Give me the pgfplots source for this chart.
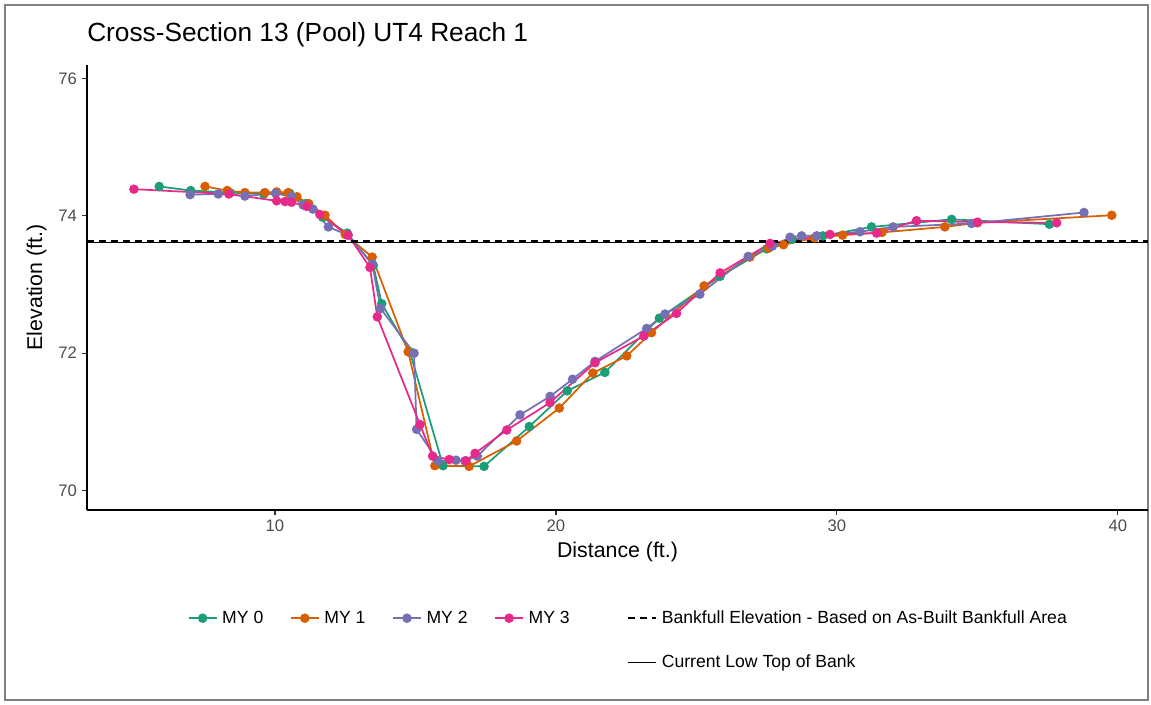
\documentclass[border=0pt]{standalone}
\usepackage{pgfplots}
\pgfplotsset{compat=1.18}
\usepackage{fontspec}
\setmainfont{Liberation Sans}
\definecolor{c0}{HTML}{1B9E77}
\definecolor{c1}{HTML}{D95F02}
\definecolor{c2}{HTML}{7570B3}
\definecolor{c3}{HTML}{E7298A}
\begin{document}
\begin{tikzpicture}
\useasboundingbox (0pt,0pt) rectangle (863.25pt,528pt);
\draw[black!50, line width=1.2pt] (3.75pt,3pt) rectangle (861pt,524.25pt);
\node[anchor=base west, inner sep=0pt, font=\fontsize{19.7}{23}\selectfont] at (65.25pt,496.5pt) {Cross-Section 13 (Pool) UT4 Reach 1};
\begin{axis}[
 at={(65.25pt,145.5pt)}, anchor=south west, scale only axis,
 width=795.75pt, height=333.75pt,
 xmin=3.31, xmax=41.07, ymin=69.714, ymax=76.20,
 axis x line*=bottom, axis y line*=left,
 axis line style={line width=1.2pt, -},
 xtick={10,20,30,40}, ytick={70,72,74,76},
 tick style={black!80, line width=0.8pt}, tick align=outside, major tick length=4pt,
 ticklabel style={font=\fontsize{12.5}{14}\selectfont, text=black!70},
 /pgf/number format/assume math mode=true,
 xlabel={Distance (ft.)}, ylabel={Elevation (ft.)},
 label style={font=\fontsize{16}{19}\selectfont},
 xlabel style={yshift=-1pt},
 ylabel style={yshift=2pt},
 every axis plot/.append style={line width=1.3pt, mark=*, mark size=2.9pt},
 legend image code/.code={\draw[mark repeat=2,mark phase=2] plot coordinates {(0pt,0pt) (10.5pt,0pt) (21pt,0pt)};},
 legend columns=6,
 legend style={draw=none, fill=none, at={(0.091,-0.214)}, anchor=north west,
   font=\fontsize{13.2}{15}\selectfont, row sep=18pt, column sep=18pt,
   /tikz/every odd column/.append style={column sep=1.5pt}},
 legend cell align=left,
]
\addplot[c0, mark options={fill=c0, draw=c0}] coordinates {
(5.88,74.43) (7.0,74.37) (8.4,74.34) (9.6,74.32) (10.53,74.33) (11.1,74.18) (11.7,73.98) (12.57,73.75)
(13.5,73.28) (13.8,72.72) (14.8,72.02) (15.98,70.36) (17.44,70.35) (19.05,70.93) (20.4,71.45) (21.74,71.72)
(23.68,72.51) (25.84,73.12) (27.5,73.52) (28.4,73.66) (29.5,73.71) (31.23,73.84) (34.08,73.95) (37.56,73.88)};
\addlegendentry{MY 0}
\addplot[c1, mark options={fill=c1, draw=c1}] coordinates {
(7.51,74.43) (8.3,74.37) (8.93,74.34) (9.64,74.34) (10.06,74.35) (10.47,74.34) (10.78,74.28) (11.2,74.18)
(11.78,74.01) (12.5,73.73) (13.46,73.40) (14.74,72.02) (15.69,70.36) (16.91,70.35) (18.6,70.72) (20.12,71.2)
(21.31,71.71) (22.52,71.96) (23.4,72.3) (25.27,72.98) (26.9,73.4) (27.56,73.53) (28.1,73.58) (29.2,73.68)
(30.2,73.72) (31.6,73.76) (33.84,73.84) (35.0,73.9) (39.78,74.01)};
\addlegendentry{MY 1}
\addplot[c2, mark options={fill=c2, draw=c2}] coordinates {
(6.98,74.31) (7.98,74.32) (8.93,74.29) (10.02,74.33) (10.6,74.28) (11.0,74.16) (11.35,74.10) (11.9,73.84)
(12.6,73.72) (13.46,73.30) (13.76,72.65) (14.95,72.00) (15.04,70.89) (15.8,70.43) (16.44,70.44) (16.76,70.43)
(17.2,70.50) (18.72,71.10) (19.79,71.37) (20.59,71.62) (21.39,71.88) (23.23,72.36) (23.88,72.57) (25.12,72.86)
(26.84,73.41) (27.7,73.56) (28.33,73.69) (28.74,73.71) (29.28,73.71) (30.82,73.77) (32.0,73.84) (34.79,73.89) (38.79,74.05)};
\addlegendentry{MY 2}
\addplot[c3, mark options={fill=c3, draw=c3}] coordinates {
(4.98,74.39) (8.36,74.32) (10.06,74.22) (10.36,74.21) (10.59,74.20) (11.13,74.14) (11.6,74.02) (12.6,73.72)
(13.38,73.25) (13.64,72.53) (15.16,70.96) (15.61,70.50) (16.2,70.45) (16.8,70.43) (17.12,70.54) (18.25,70.88)
(19.79,71.28) (21.39,71.86) (23.13,72.25) (24.29,72.58) (25.84,73.17) (27.62,73.60) (29.75,73.73) (31.41,73.75)
(32.83,73.93) (35.0,73.91) (37.82,73.90)};
\addlegendentry{MY 3}
\addlegendimage{empty legend}
\addlegendentry{\hspace{10pt}}
\addplot[black, no marks, line width=1.1pt, dash pattern=on 5pt off 4pt] coordinates {(3.31,73.635) (41.07,73.635)};
\addlegendentry{Bankfull Elevation - Based on As-Built Bankfull Area}
\addlegendimage{empty legend}\addlegendentry{}
\addlegendimage{empty legend}\addlegendentry{}
\addlegendimage{empty legend}\addlegendentry{}
\addlegendimage{empty legend}\addlegendentry{}
\addlegendimage{empty legend}\addlegendentry{}
\addplot[black, no marks, line width=1.1pt] coordinates {(3.31,73.615) (41.07,73.615)};
\addlegendentry{Current Low Top of Bank}
\end{axis}
\end{tikzpicture}
\end{document}
